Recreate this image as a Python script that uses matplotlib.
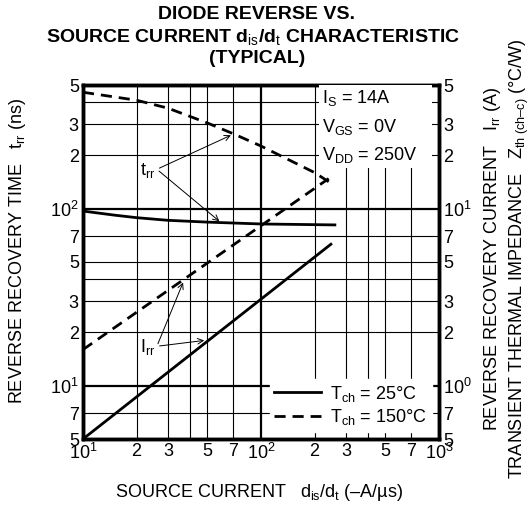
import matplotlib
matplotlib.use("Agg")
import matplotlib.pyplot as plt
from matplotlib.lines import Line2D
from matplotlib.patches import Rectangle

plt.rcParams['font.family'] = ['Liberation Sans', 'DejaVu Sans']
plt.rcParams['mathtext.fontset'] = 'custom'
plt.rcParams['mathtext.rm'] = 'Liberation Sans'
plt.rcParams['mathtext.it'] = 'Liberation Sans'
plt.rcParams['mathtext.bf'] = 'Liberation Sans:bold'

# trr (ns), left axis
x_trr150 = [10, 20, 30, 50, 70, 100, 200, 240]
trr150 = [455, 410, 370, 305, 265, 226, 160, 142]
x_trr25 = [10, 15, 20, 30, 50, 100, 260]
trr25 = [97, 92, 89, 86, 84, 82, 81]

# Irr (A), right axis
x_irr150 = [10, 240]
irr150 = [1.6, 14.8]
x_irr25 = [10, 247]
irr25 = [0.5, 6.3]

x_ticks = [10, 20, 30, 50, 70, 100, 200, 300, 500, 700, 1000]
x_labels = ['$10^1$', '2', '3', '5', '7', '$10^2$', '2', '3', '5', '7', '$10^3$']
y_ticks = [5, 7, 10, 20, 30, 50, 70, 100, 200, 300, 500]
y_labels = ['5', '7', '$10^1$', '2', '3', '5', '7', '$10^2$', '2', '3', '5']
y2_ticks = [0.5, 0.7, 1, 2, 3, 5, 7, 10, 20, 30, 50]
y2_labels = ['5', '7', '$10^0$', '2', '3', '5', '7', '$10^1$', '2', '3', '5']
grid_x = [20, 30, 40, 50, 70, 100, 200, 300, 400, 500, 700]
grid_y = [7, 10, 20, 30, 40, 50, 70, 100, 200, 300, 400]

fs = 13

fig = plt.figure(figsize=(5.32, 5.17), dpi=100)
ax = fig.add_axes([83/532, 1-439/517, 356/532, 354/517])
ax.set_xscale('log')
ax.set_yscale('log')
ax.set_xlim(10, 1000)
ax.set_ylim(5, 500)

for v in grid_x:
    ax.axvline(v, color='black', lw=1.6 if v == 100 else 0.8, zorder=1)
for v in grid_y:
    ax.axhline(v, color='black', lw=1.6 if v in (10, 100) else 0.8, zorder=1)

ax.set_xticks(x_ticks, x_labels)
ax.set_yticks(y_ticks, y_labels)
ax.minorticks_off()
ax.tick_params(length=0, labelsize=fs, pad=3)
for s in ax.spines.values():
    s.set_linewidth(2.5)

ax.plot(x_trr150, trr150, color='black', lw=2, ls=(0, (4, 2.5)), zorder=3)
ax.plot(x_trr25, trr25, color='black', lw=2, zorder=3)

ax2 = ax.twinx()
ax2.set_yscale('log')
ax2.set_ylim(0.5, 50)
ax2.set_yticks(y2_ticks, y2_labels)
ax2.minorticks_off()
ax2.tick_params(length=0, labelsize=fs, pad=3)
for s in ax2.spines.values():
    s.set_linewidth(2.5)
ax2.plot(x_irr150, irr150, color='black', lw=2, ls=(0, (4, 2.5)), zorder=3)
ax2.plot(x_irr25, irr25, color='black', lw=2, zorder=3)

# annotations
ax.text(25.5, 165, r't$_{\rm rr}$', fontsize=fs, ha='right', va='center')
ax.annotate('', xy=(70, 264), xytext=(26, 167),
            arrowprops=dict(arrowstyle='->', lw=0.7, color='black'))
ax.annotate('', xy=(60, 83), xytext=(26, 167),
            arrowprops=dict(arrowstyle='->', lw=0.7, color='black'))
ax2.text(25.5, 1.66, r'I$_{\rm rr}$', fontsize=fs, ha='right', va='center')
ax2.annotate('', xy=(37, 3.96), xytext=(26, 1.67),
             arrowprops=dict(arrowstyle='->', lw=0.7, color='black'))
ax2.annotate('', xy=(49.7, 1.81), xytext=(26, 1.67),
             arrowprops=dict(arrowstyle='->', lw=0.7, color='black'))

# white area behind the test conditions
ax2.add_patch(Rectangle((0.664, 0.765), 0.316, 0.235, transform=ax.transAxes,
                        facecolor='white', edgecolor='none', zorder=4))
cond = [r'I$_{\rm S}$ = 14A', r'V$_{\rm GS}$ = 0V', r'V$_{\rm DD}$ = 250V']
for i, t in enumerate(cond):
    ax2.text(0.672, 0.963 - i * 0.081, t, transform=ax.transAxes, fontsize=fs,
             ha='left', va='center', zorder=5)

handles = [Line2D([], [], color='black', lw=2),
           Line2D([], [], color='black', lw=2, ls=(0, (4, 2.5)))]
leg = ax2.legend(handles, [r'T$_{\rm ch}$ = 25°C', r'T$_{\rm ch}$ = 150°C'],
                 loc='lower right', bbox_to_anchor=(0.99, 0.01), fontsize=fs,
                 frameon=True, fancybox=False, edgecolor='white', facecolor='white',
                 framealpha=1, handlelength=2.6, handletextpad=0.5,
                 borderpad=0.25, labelspacing=0.2, borderaxespad=0.2)
leg.set_zorder(6)

fig.text(0.483, 0.971, 'DIODE REVERSE VS.', fontsize=14, fontweight='bold',
         ha='center', va='center')
fig.text(0.475, 0.928, r'SOURCE CURRENT d$_{\rm is}$/d$_{\rm t}$ CHARACTERISTIC',
         fontsize=14, fontweight='bold', ha='center', va='center')
fig.text(0.483, 0.886, '(TYPICAL)', fontsize=14, fontweight='bold',
         ha='center', va='center')

fig.text(0.487, 0.048, r'SOURCE CURRENT   d$_{\rm is}$/d$_{\rm t}$ (–A/µs)',
         fontsize=fs, ha='center', va='center')
fig.text(0.032, 0.515, r'REVERSE RECOVERY TIME   t$_{\rm rr}$ (ns)',
         fontsize=fs, rotation=90, ha='center', va='center')
fig.text(0.925, 0.5, r'REVERSE RECOVERY CURRENT   I$_{\rm rr}$ (A)',
         fontsize=fs, rotation=90, ha='center', va='center')
fig.text(0.977, 0.5, r'TRANSIENT THERMAL IMPEDANCE   Z$_{\rm th\ (ch–c)}$ (°C/W)',
         fontsize=fs, rotation=90, ha='center', va='center')

fig.savefig('out.png', dpi=100)
